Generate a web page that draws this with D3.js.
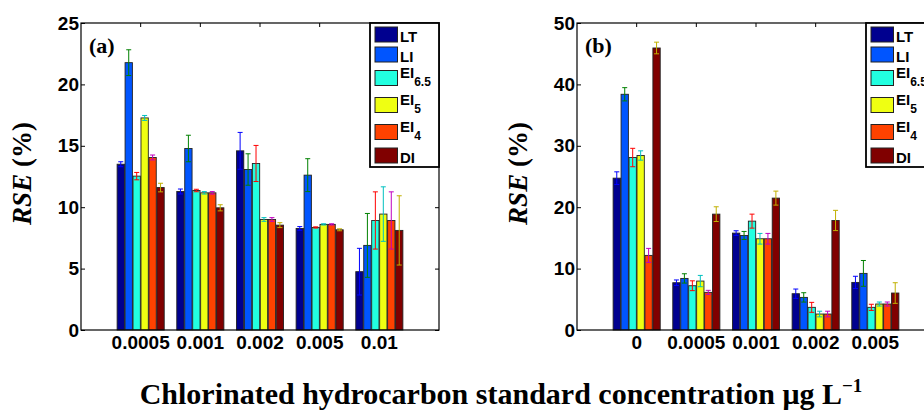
<!DOCTYPE html>
<html>
<head>
<meta charset="utf-8">
<script src="https://cdn.jsdelivr.net/npm/d3@7/dist/d3.min.js"></script>
<style>
  body { margin: 0; background: #fff; }
  svg { display: block; }
  .tick text { font-family: "Liberation Sans", Arial, sans-serif; font-weight: bold; font-size: 19px; fill: #000; }
  .tick line { stroke: #000; }
</style>
</head>
<body>
<svg id="chart" width="924" height="410"></svg>
<script>
/* data */
var seriesNames = ["LT", "LI", "EI6.5", "EI5", "EI4", "DI"];
var categoriesA = ["0.0005", "0.001", "0.002", "0.005", "0.01"];
var categoriesB = ["0", "0.0005", "0.001", "0.002", "0.005"];
var yTicksA = [0, 5, 10, 15, 20, 25];
var yTicksB = [0, 10, 20, 30, 40, 50];

/* RSE (%) for panel (a), one row per series */
var rseA = [
  [13.5, 11.28, 14.59, 8.27, 4.75],
  [21.77, 14.78, 13.07, 12.61, 6.89],
  [12.53, 11.36, 13.56, 8.35, 8.92],
  [17.27, 11.17, 9.0, 8.6, 9.44],
  [14.05, 11.17, 9.0, 8.6, 8.92],
  [11.6, 9.95, 8.54, 8.16, 8.11]
];
var errA = [
  [0.2, 0.2, 1.5, 0.15, 1.9],
  [1.05, 1.08, 1.28, 1.34, 2.6],
  [0.3, 0.1, 1.47, 0.05, 2.33],
  [0.2, 0.1, 0.15, 0.05, 2.22],
  [0.2, 0.1, 0.15, 0.05, 2.33],
  [0.35, 0.25, 0.2, 0.08, 2.82]
];

/* RSE (%) for panel (b) */
var rseB = [
  [24.73, 7.7, 15.78, 5.91, 7.75],
  [38.39, 8.4, 15.4, 5.31, 9.22],
  [28.09, 7.21, 17.73, 3.69, 3.69],
  [28.42, 7.97, 14.86, 2.6, 4.23],
  [12.15, 6.13, 14.86, 2.6, 4.23],
  [45.93, 18.87, 21.48, 17.84, 6.02]
];
var errB = [
  [1.03, 0.45, 0.38, 0.76, 1.0],
  [1.08, 0.76, 0.65, 0.76, 2.1],
  [1.5, 0.8, 1.14, 0.81, 0.5],
  [0.76, 0.92, 0.87, 0.46, 0.33],
  [1.14, 0.33, 0.87, 0.46, 0.33],
  [0.95, 1.2, 1.14, 1.65, 1.68]
];

var barColors = ["#00008f", "#0055ff", "#22ffe0", "#efff12", "#ff4200", "#800000"];
var errColors = ["#0000ff", "#008000", "#ff0000", "#00c0c0", "#c000c0", "#c0b000"];

var svg = d3.select("#chart");

function drawPanel(opt) {
  var left = opt.left, top = 23, width = 358, height = 307;
  var g = svg.append("g").attr("transform", "translate(" + left + "," + top + ")");

  var x0 = d3.scaleBand().domain(opt.categories).range([0, width])
      .paddingInner(0.2).paddingOuter(0.6);
  var x1 = d3.scaleBand().domain(d3.range(seriesNames.length)).range([0, x0.bandwidth()]);
  var y = d3.scaleLinear().domain([0, opt.yMax]).range([height, 0]);

  /* inward ticks on top and right */
  g.append("g")
      .call(d3.axisTop(x0).tickSize(-4).tickFormat(""))
      .call(function(a) { a.select(".domain").remove(); });
  g.append("g")
      .attr("transform", "translate(" + width + ",0)")
      .call(d3.axisRight(y).tickValues(opt.yTicks).tickSize(-4).tickFormat(""))
      .call(function(a) { a.select(".domain").remove(); });

  var groups = g.selectAll(".grp")
    .data(opt.categories)
    .enter().append("g")
      .attr("class", "grp")
      .attr("transform", function(d) { return "translate(" + x0(d) + ",0)"; });

  var bw = x1.bandwidth() * 0.92;

  groups.each(function(cat, ci) {
    var gg = d3.select(this);
    seriesNames.forEach(function(s, si) {
      var v = opt.values[si][ci], e = opt.errors[si][ci];
      var cx = x1(si) + x1.bandwidth() / 2;
      gg.append("rect")
          .attr("x", cx - bw / 2)
          .attr("y", y(v))
          .attr("width", bw)
          .attr("height", height - y(v))
          .attr("fill", barColors[si])
          .attr("stroke", "#222")
          .attr("stroke-width", 0.9);
      var eb = gg.append("g").attr("stroke", errColors[si]).attr("stroke-width", 1);
      eb.append("line").attr("x1", cx).attr("x2", cx).attr("y1", y(v - e)).attr("y2", y(v + e));
      eb.append("line").attr("x1", cx - 2.5).attr("x2", cx + 2.5).attr("y1", y(v - e)).attr("y2", y(v - e));
      eb.append("line").attr("x1", cx - 2.5).attr("x2", cx + 2.5).attr("y1", y(v + e)).attr("y2", y(v + e));
    });
  });

  /* left axis with labels, ticks inward */
  g.append("g")
      .call(d3.axisLeft(y).tickValues(opt.yTicks).tickSize(-4).tickPadding(2))
      .call(function(a) { a.select(".domain").remove(); });

  /* bottom labels */
  g.append("g")
      .attr("transform", "translate(0," + height + ")")
      .call(d3.axisBottom(x0).tickSize(0).tickPadding(6))
      .call(function(a) { a.select(".domain").remove(); a.selectAll("text").attr("dy", "0.71em"); });

  /* axes box */
  g.append("rect")
      .attr("width", width).attr("height", height)
      .attr("fill", "none").attr("stroke", "#000").attr("stroke-width", 1.2);

  /* panel letter */
  g.append("text")
      .attr("x", 8).attr("y", 30)
      .style("font-family", "'Liberation Serif', 'Times New Roman', serif")
      .style("font-weight", "bold").style("font-size", "22px")
      .text(opt.letter);

  /* y label */
  var yl = svg.append("text")
      .attr("transform", "translate(" + (left - 50) + "," + (top + height / 2 - 3) + ") rotate(-90)")
      .attr("text-anchor", "middle")
      .style("font-family", "'Liberation Serif', 'Times New Roman', serif")
      .style("font-weight", "bold").style("font-size", "27px");
  yl.append("tspan").style("font-style", "italic").text("RSE");
  yl.append("tspan").text(" (%)");

  /* legend */
  var lw = 69, lh = 144;
  var lg = g.append("g").attr("transform", "translate(" + (width - lw) + ",0)");
  lg.append("rect").attr("width", lw).attr("height", lh)
      .attr("fill", "#fff").attr("stroke", "#000").attr("stroke-width", 1.8);
  var yy = 4;
  seriesNames.forEach(function(s, si) {
    var m = s.match(/^(EI)(.+)$/);
    if (si > 0) {
      var prevSub = /^EI/.test(seriesNames[si - 1]);
      yy += 20 + (prevSub ? 3.5 : 0) + (m ? 3.5 : 0);
    }
    lg.append("rect").attr("x", 5).attr("y", yy).attr("width", 22.5).attr("height", 15)
        .attr("fill", barColors[si]).attr("stroke", "#222").attr("stroke-width", 1);
    var t = lg.append("text").attr("x", 30)
        .attr("y", m ? yy + 7 : yy + 15)
        .style("font-family", "'Liberation Sans', Arial, sans-serif")
        .style("font-weight", "bold").style("font-size", "15px");
    if (m) {
      t.append("tspan").text(m[1]);
      t.append("tspan").attr("dy", 8.5).style("font-size", "12px").text(m[2]);
    } else {
      t.text(s);
    }
  });
}

drawPanel({ left: 81, categories: categoriesA, yMax: 25, yTicks: yTicksA, values: rseA, errors: errA, letter: "(a)" });
drawPanel({ left: 577, categories: categoriesB, yMax: 50, yTicks: yTicksB, values: rseB, errors: errB, letter: "(b)" });

/* shared x title */
var xt = svg.append("text")
    .attr("x", 501).attr("y", 404)
    .attr("text-anchor", "middle")
    .style("font-family", "'Liberation Serif', 'Times New Roman', serif")
    .style("font-weight", "bold").style("font-size", "30px");
xt.append("tspan").text("Chlorinated hydrocarbon standard concentration \u03bcg L");
xt.append("tspan").attr("dy", -12).style("font-size", "19px").text("\u22121");
</script>
</body>
</html>
